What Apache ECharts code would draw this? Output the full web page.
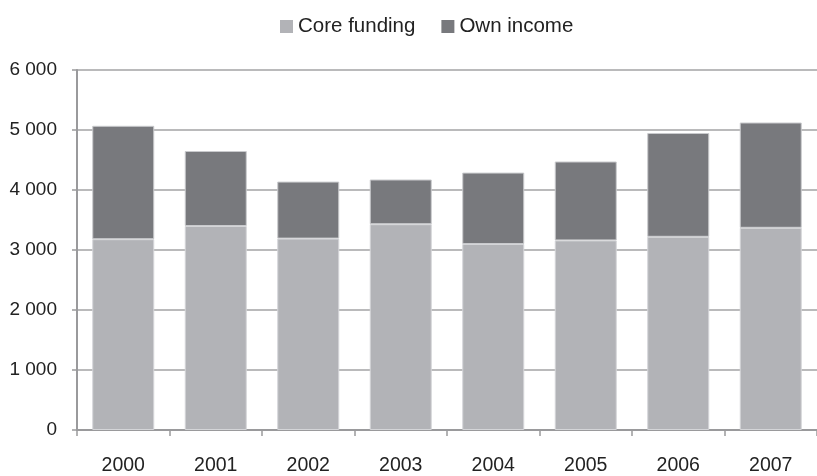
<!DOCTYPE html>
<html>
<head>
<meta charset="utf-8">
<script src="https://cdn.jsdelivr.net/npm/echarts@6/dist/echarts.min.js"></script>
<style>
  html, body { margin: 0; padding: 0; background: #fff; }
  #chart { width: 817px; height: 476px; }
</style>
</head>
<body>
<div id="chart"></div>
<script>
// Funding by year: core funding plus own income, stacked
const years = ['2000', '2001', '2002', '2003', '2004', '2005', '2006', '2007'];
const coreFunding = [3180, 3400, 3190, 3430, 3100, 3160, 3220, 3370];
const ownIncome = [1890, 1250, 950, 745, 1190, 1315, 1730, 1755];
const yTicks = [0, 1000, 2000, 3000, 4000, 5000, 6000];

const FONT = '"Liberation Sans", Arial, sans-serif';

const chart = echarts.init(document.getElementById('chart'), null, { renderer: 'canvas' });

// thousands separated by a space, e.g. 6 000
function fmt(v) {
  const s = String(v);
  return s.length > 3 ? s.slice(0, s.length - 3) + ' ' + s.slice(-3) : s;
}

chart.setOption({
  animation: false,
  backgroundColor: '#ffffff',
  legend: {
    top: 11,
    left: 275,
    itemWidth: 13,
    itemHeight: 13,
    itemGap: 26,
    icon: 'rect',
    itemStyle: { borderWidth: 0 },
    textStyle: { fontFamily: FONT, fontSize: 20.5, color: '#222' },
    data: ['Core funding', 'Own income']
  },
  grid: { left: 77, top: 70, width: 750, height: 361, containLabel: false },
  xAxis: {
    type: 'category',
    data: years,
    axisLine: { lineStyle: { color: '#9a9a9c', width: 2 } },
    axisTick: { show: true, length: 6, lineStyle: { color: '#9a9a9c', width: 1.5 } },
    axisLabel: { fontFamily: FONT, fontSize: 19.5, color: '#222', margin: 26 }
  },
  yAxis: {
    type: 'value',
    min: yTicks[0],
    max: yTicks[yTicks.length - 1],
    interval: 1000,
    axisLine: { show: true, lineStyle: { color: '#9a9a9c', width: 2 } },
    axisTick: { show: true, length: 5, lineStyle: { color: '#9a9a9c', width: 1.5 } },
    splitLine: { lineStyle: { color: '#a3a3a5', width: 1.5 } },
    axisLabel: {
      fontFamily: FONT, fontSize: 19, color: '#222', margin: 20,
      formatter: fmt
    }
  },
  series: [
    {
      name: 'Core funding',
      type: 'bar',
      stack: 'total',
      data: coreFunding,
      barWidth: 62,
      itemStyle: { color: '#b2b3b7', borderColor: '#d4d5d8', borderWidth: 1 }
    },
    {
      name: 'Own income',
      type: 'bar',
      stack: 'total',
      data: ownIncome,
      barWidth: 62,
      itemStyle: { color: '#78797d', borderColor: '#c9cacd', borderWidth: 1 }
    }
  ]
});
</script>
</body>
</html>
